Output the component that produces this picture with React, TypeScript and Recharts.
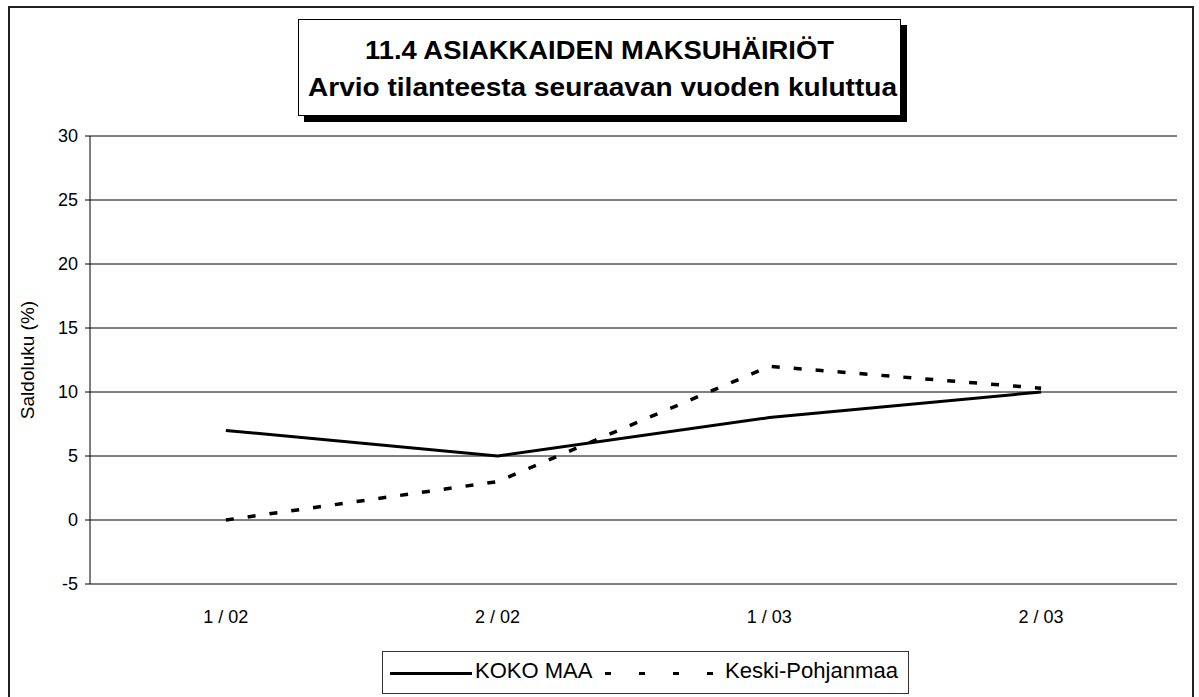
import React from 'react';
import { LineChart, Line, XAxis, YAxis, CartesianGrid, ReferenceLine, Legend, Label } from 'recharts';

const categories = ['1 / 02', '2 / 02', '1 / 03', '2 / 03'];
const kokoMaa = [7, 5, 8, 10];
const keskiPohjanmaa = [0, 3, 12, 10.3];
const yTicks = [-5, 0, 5, 10, 15, 20, 25, 30];
const titleLines = ['11.4 ASIAKKAIDEN MAKSUHÄIRIÖT', 'Arvio tilanteesta seuraavan vuoden kuluttua'];
const seriesNames = ['KOKO MAA', 'Keski-Pohjanmaa'];
const yLabel = 'Saldoluku (%)';

const data = categories.map((c, i) => ({ cat: c, koko: kokoMaa[i], keski: keskiPohjanmaa[i] }));

const FONT = '"Liberation Sans", Arial, sans-serif';

const LegendBox = () => (
  <div style={{ width: 525, height: 41, border: '1px solid #333', background: '#fff', boxSizing: 'content-box' }}>
    <svg width={525} height={41} style={{ display: 'block' }}>
      <line x1={7} y1={21.5} x2={89} y2={21.5} stroke="#000" strokeWidth={3} />
      <text x={92} y={26} fontFamily={FONT} fontSize={22} fill="#000">{seriesNames[0]}</text>
      <line x1={222} y1={21.5} x2={334} y2={21.5} stroke="#000" strokeWidth={3} strokeDasharray="6 28" />
      <text x={342} y={26} fontFamily={FONT} fontSize={22} textLength={173} lengthAdjust="spacingAndGlyphs" fill="#000">{seriesNames[1]}</text>
    </svg>
  </div>
);

export default function App() {
  return (
    <div style={{ position: 'absolute', left: 0, top: 0, width: 1199, height: 697, background: '#fff', overflow: 'hidden' }}>
      <LineChart width={1199} height={697} data={data} margin={{ top: 136, right: 22, bottom: 73, left: 40 }}>
        <CartesianGrid horizontal vertical={false} stroke="#000" strokeWidth={1} />
        <XAxis
          dataKey="cat"
          scale="band"
          axisLine={false}
          tickLine={false}
          tickSize={0}
          tickMargin={26}
          height={40}
          tick={{ fontSize: 18, fill: '#000', fontFamily: FONT }}
        />
        <YAxis
          domain={[-5, 30]}
          ticks={yTicks}
          interval={0}
          width={50}
          axisLine={{ stroke: '#000', strokeWidth: 1 }}
          tickLine={{ stroke: '#000' }}
          tickSize={5}
          tickMargin={7}
          tick={{ fontSize: 18, fill: '#000', fontFamily: FONT }}
        >
          <Label value={yLabel} angle={-90} position="insideLeft" dx={-18} style={{ textAnchor: 'middle', fontSize: 19, fill: '#000', fontFamily: FONT }} />
        </YAxis>
        <ReferenceLine y={0} stroke="#808080" strokeWidth={2} />
        <Legend layout="horizontal" verticalAlign="middle" align="center" content={<LegendBox />} wrapperStyle={{ left: 382, top: 651, width: 527, height: 43 }} />
        <Line type="linear" dataKey="koko" name={seriesNames[0]} stroke="#000" strokeWidth={3} dot={false} isAnimationActive={false} />
        <Line type="linear" dataKey="keski" name={seriesNames[1]} stroke="#000" strokeWidth={3.5} strokeDasharray="8 14" dot={false} isAnimationActive={false} />
      </LineChart>
      <svg width={1199} height={697} style={{ position: 'absolute', left: 0, top: 0, pointerEvents: 'none' }}>
        <path d="M9 697 L9 7 L1193 7 L1193 697" fill="none" stroke="#222" strokeWidth={2} />
        <rect x={304} y={25} width={603} height={97} fill="#000" />
        <rect x={298.5} y={19.5} width={602} height={96} fill="#fff" stroke="#000" strokeWidth={1} />
        <text x={599.5} y={59} textAnchor="middle" fontFamily={FONT} fontWeight="bold" fontSize={26} textLength={469} lengthAdjust="spacingAndGlyphs" fill="#000">{titleLines[0]}</text>
        <text x={602.5} y={96} textAnchor="middle" fontFamily={FONT} fontWeight="bold" fontSize={26} textLength={589} lengthAdjust="spacingAndGlyphs" fill="#000">{titleLines[1]}</text>
      </svg>
    </div>
  );
}
